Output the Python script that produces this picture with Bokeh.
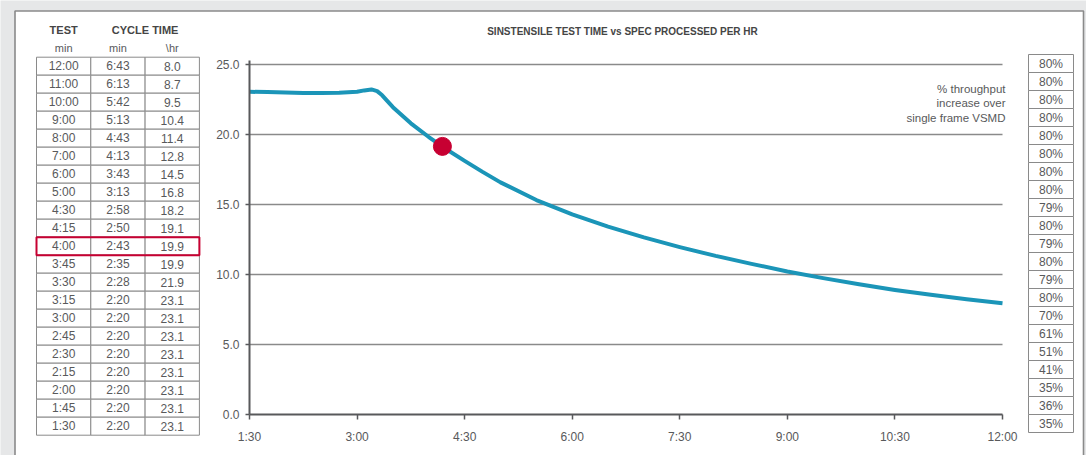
from bokeh.plotting import figure
from bokeh.models import Range1d, FixedTicker
from bokeh.core.properties import value
from bokeh.embed import file_html
from bokeh.resources import INLINE

# ---------------- data ----------------
test_min = ["12:00", "11:00", "10:00", "9:00", "8:00", "7:00", "6:00", "5:00", "4:30", "4:15",
            "4:00", "3:45", "3:30", "3:15", "3:00", "2:45", "2:30", "2:15", "2:00", "1:45", "1:30"]
cycle_min = ["6:43", "6:13", "5:42", "5:13", "4:43", "4:13", "3:43", "3:13", "2:58", "2:50",
             "2:43", "2:35", "2:28", "2:20", "2:20", "2:20", "2:20", "2:20", "2:20", "2:20", "2:20"]
per_hr = ["8.0", "8.7", "9.5", "10.4", "11.4", "12.8", "14.5", "16.8", "18.2", "19.1",
          "19.9", "19.9", "21.9", "23.1", "23.1", "23.1", "23.1", "23.1", "23.1", "23.1", "23.1"]
highlight_test = "4:00"
throughput_pct = ["80%", "80%", "80%", "80%", "80%", "80%", "80%", "80%", "79%", "80%", "79%",
                  "80%", "79%", "80%", "70%", "61%", "51%", "41%", "35%", "36%", "35%"]
left_headers = ["TEST", "CYCLE TIME"]
left_units = ["min", "min", "\\hr"]

curve_t = [1.5, 1.75, 2.0, 2.25, 2.5, 2.75, 3.0, 3.1, 3.2, 3.28, 3.35, 3.42, 3.5, 3.75, 4.0, 4.25,
           4.5, 4.75, 5.0, 5.5, 6.0, 6.5, 7.0, 7.5, 8.0, 8.5, 9.0, 9.5, 10.0, 10.5, 11.0, 11.5, 12.0]
curve_rate = [23.05, 23.03, 23.0, 22.97, 22.96, 22.98, 23.05, 23.15, 23.22, 23.1, 22.8, 22.4, 21.95,
              20.8, 19.82, 18.93, 18.12, 17.33, 16.58, 15.32, 14.3, 13.42, 12.65, 11.96, 11.33, 10.76,
              10.22, 9.74, 9.3, 8.9, 8.55, 8.24, 7.95]
marker_t = [4.19]
marker_rate = [19.15]

x_ticks = [1.5, 3.0, 4.5, 6.0, 7.5, 9.0, 10.5, 12.0]
x_tick_labels = ["1:30", "3:00", "4:30", "6:00", "7:30", "9:00", "10:30", "12:00"]
y_ticks = [0, 5, 10, 15, 20, 25]
y_tick_labels = ["0.0", "5.0", "10.0", "15.0", "20.0", "25.0"]
title_text = "SINSTENSILE TEST TIME vs SPEC PROCESSED PER HR"
note_lines = ["% throughput", "increase over", "single frame VSMD"]

# ---------------- style / layout ----------------
FONT = "Liberation Sans"
GRAY_BG = "#e6e7e8"
BORDER = "#8a8a8a"
TEXT = "#58595b"
HEAD = "#454545"
TEAL = "#1b95b8"
RED = "#c70032"

W, H = 1086, 455

# main (chart) scale: page pixel -> data
PX_PER_MIN = 753 / 10.5
PX_PER_UNIT = 14.0
AX_X, AX_Y = 249.0, 414.0
x_start = x_ticks[0] - AX_X / PX_PER_MIN
x_end = x_start + W / PX_PER_MIN
y_end = AX_Y / PX_PER_UNIT
y_start = y_end - H / PX_PER_UNIT


def px(v):
    return x_start + v / PX_PER_MIN


def py(v):
    return (AX_Y - v) / PX_PER_UNIT


p = figure(width=W, height=H, x_range=Range1d(x_start, x_end), y_range=Range1d(y_start, y_end),
           min_border=0, toolbar_location=None, output_backend="svg")
p.outline_line_color = None
p.background_fill_color = GRAY_BG
p.border_fill_color = GRAY_BG
p.grid.visible = False

# table scales (cell units)
cw, ch = 54.3, 18.0
lt_x0 = -0.5 - 36.0 / cw
lt_y_top = -0.5 - 56.7 / ch
rw, rh = 45.0, 18.0
rt_x0 = -0.5 - 1028.0 / rw
rt_y_top = -0.5 - 54.0 / rh
p.extra_x_ranges = {"lt": Range1d(lt_x0, lt_x0 + W / cw), "rt": Range1d(rt_x0, rt_x0 + W / rw)}
p.extra_y_ranges = {"lt": Range1d(lt_y_top + H / ch, lt_y_top), "rt": Range1d(rt_y_top + H / rh, rt_y_top)}

# white panel with border
p.quad(left=px(14.5), right=px(1083), top=py(10.5), bottom=y_start - 1,
       fill_color="white", line_color=BORDER, line_width=1.6)

# ---------- left table ----------
rows = list(range(len(test_min)))
for ci, col in enumerate([test_min, cycle_min, per_hr]):
    p.rect(x=[ci] * len(col), y=rows, width=1, height=1, fill_color="white",
           line_color=BORDER, line_width=1, x_range_name="lt", y_range_name="lt")
    p.text(x=[ci] * len(col), y=rows, text=col, text_align="center", text_baseline="middle",
           text_font=value(FONT), text_font_size="12px", text_color=TEXT,
           x_range_name="lt", y_range_name="lt")
hi = test_min.index(highlight_test)
p.rect(x=[1], y=[hi], width=3, height=1, fill_color=None, line_color=RED, line_width=2,
       x_range_name="lt", y_range_name="lt")
p.text(x=[0, 1.5], y=[-2, -2], text=left_headers, text_align="center", text_baseline="middle",
       text_font=value(FONT), text_font_size="11px", text_font_style="bold", text_color=HEAD,
       x_range_name="lt", y_range_name="lt")
p.text(x=[0, 1, 2], y=[-1, -1, -1], text=left_units, text_align="center", text_baseline="middle",
       text_font=value(FONT), text_font_size="11px", text_color=TEXT,
       x_range_name="lt", y_range_name="lt")

# ---------- right column ----------
rrows = list(range(len(throughput_pct)))
p.rect(x=[0] * len(rrows), y=rrows, width=1, height=1, fill_color="white",
       line_color=BORDER, line_width=1, x_range_name="rt", y_range_name="rt")
p.text(x=[0] * len(rrows), y=rrows, text=throughput_pct, text_align="center",
       text_baseline="middle", text_font=value(FONT), text_font_size="12px", text_color=TEXT,
       x_range_name="rt", y_range_name="rt")

# ---------- chart ----------
p.segment(x0=x_ticks[0], x1=x_ticks[-1], y0=y_ticks[1:], y1=y_ticks[1:],
          line_color=BORDER, line_width=1.3)
p.line(curve_t, curve_rate, line_color=TEAL, line_width=4, line_join="round")
p.scatter(marker_t, marker_rate, size=18, fill_color=RED, line_color=RED)

for ax in (p.xaxis[0], p.yaxis[0]):
    ax.axis_line_color = TEXT
    ax.axis_line_width = 2
    ax.major_tick_line_color = TEXT
    ax.major_tick_line_width = 1.5
    ax.major_tick_in = 0
    ax.minor_tick_line_color = None
    ax.major_label_text_font = FONT
    ax.major_label_text_font_size = "12px"
    ax.major_label_text_color = TEXT
p.xaxis.fixed_location = y_ticks[0]
p.xaxis.ticker = FixedTicker(ticks=x_ticks)
p.xaxis.major_label_overrides = dict(zip(x_ticks, x_tick_labels))
p.xaxis.bounds = (x_ticks[0], x_ticks[-1])
p.xaxis.major_tick_out = 5
p.xaxis.major_label_standoff = 10
p.yaxis.fixed_location = x_ticks[0]
p.yaxis.ticker = FixedTicker(ticks=y_ticks)
p.yaxis.major_label_overrides = dict(zip(y_ticks, y_tick_labels))
p.yaxis.bounds = (y_ticks[0], py(60))
p.yaxis.major_tick_out = 4
p.yaxis.major_label_standoff = 6

p.text(x=[px(622)], y=[py(30.5)], text=[title_text], text_align="center", text_baseline="middle",
       text_font=value(FONT), text_font_size="10px", text_font_style="bold", text_color=HEAD)
p.text(x=[px(1005)] * 3, y=[py(88), py(102.5), py(117)], text=note_lines,
       text_align="right", text_baseline="middle", text_font=value(FONT),
       text_font_size="11.5px", text_color=TEXT)

open("out.html", "w").write(file_html(p, INLINE))
